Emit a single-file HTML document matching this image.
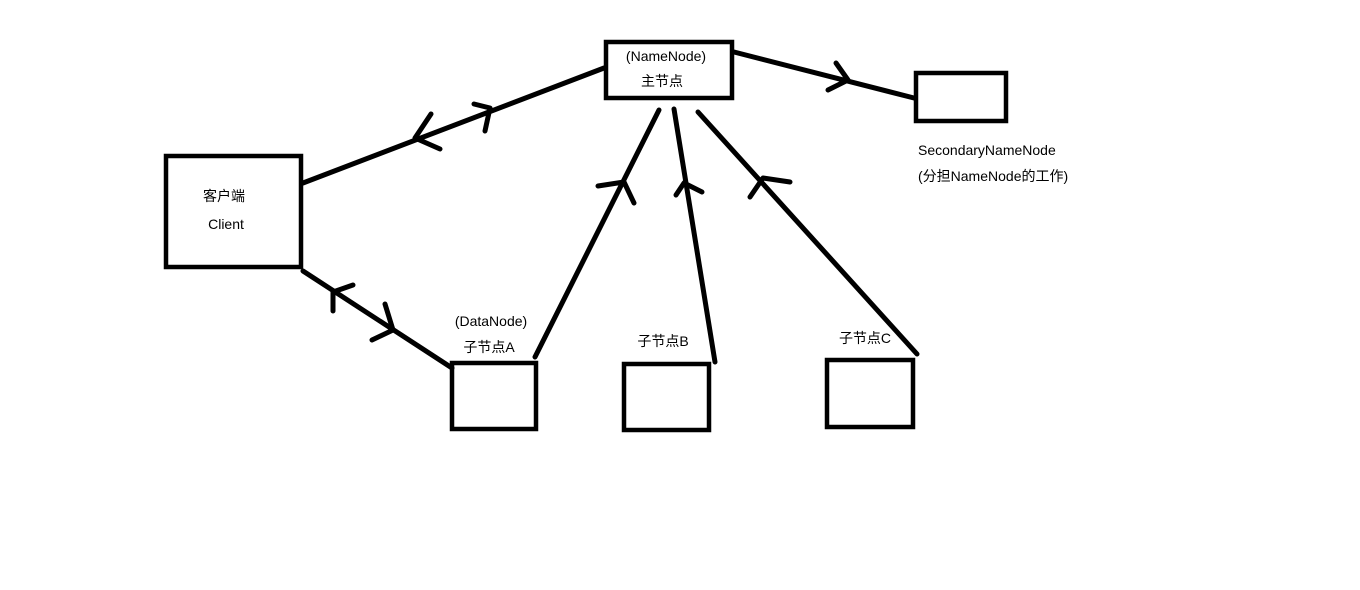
<!DOCTYPE html>
<html><head><meta charset="utf-8"><style>
html,body{margin:0;padding:0;background:#fff;}
svg{display:block;}
text{font-family:"Liberation Sans","Noto Sans CJK SC",sans-serif;font-size:14px;fill:#000;}
</style></head><body>
<svg width="1360" height="590" viewBox="0 0 1360 590" xmlns="http://www.w3.org/2000/svg">
<g fill="none" stroke="#000" stroke-width="4.5">
<rect x="606" y="42" width="126" height="56"/>
<rect x="166" y="156" width="135" height="111"/>
<rect x="916" y="73" width="90" height="48"/>
<rect x="452" y="363" width="84" height="66"/>
<rect x="624" y="364" width="85" height="66"/>
<rect x="827" y="360" width="86" height="67"/>
</g>
<g fill="none" stroke="#000" stroke-width="5" stroke-linecap="round" stroke-linejoin="round">
<line x1="303" y1="183" x2="604" y2="68"/>
<polyline points="431,114 415,138 440,149"/>
<polyline points="474,104 490,108 485,131"/>
<line x1="303" y1="271" x2="452" y2="368"/>
<polyline points="353,285 333,292 333,311"/>
<polyline points="385,304 393,330 372,340"/>
<line x1="535" y1="357" x2="659" y2="110"/>
<polyline points="598,186 624,182 634,203"/>
<line x1="674" y1="109" x2="715" y2="362"/>
<polyline points="676,195 684,183 702,192"/>
<line x1="698" y1="112" x2="917" y2="354"/>
<polyline points="750,197 763,178 790,182"/>
<line x1="734" y1="52" x2="914" y2="98"/>
<polyline points="836,63 848,80 828,90"/>
</g>
<text x="666" y="61" text-anchor="middle">(NameNode)</text>
<text x="662" y="86" text-anchor="middle">主节点</text>
<text x="224" y="201" text-anchor="middle">客户端</text>
<text x="226" y="229" text-anchor="middle">Client</text>
<text x="491" y="326" text-anchor="middle">(DataNode)</text>
<text x="489" y="352" text-anchor="middle">子节点A</text>
<text x="663" y="346" text-anchor="middle">子节点B</text>
<text x="865" y="343" text-anchor="middle">子节点C</text>
<text x="918" y="155">SecondaryNameNode</text>
<text x="918" y="181">(分担NameNode的工作)</text>
</svg>
</body></html>
